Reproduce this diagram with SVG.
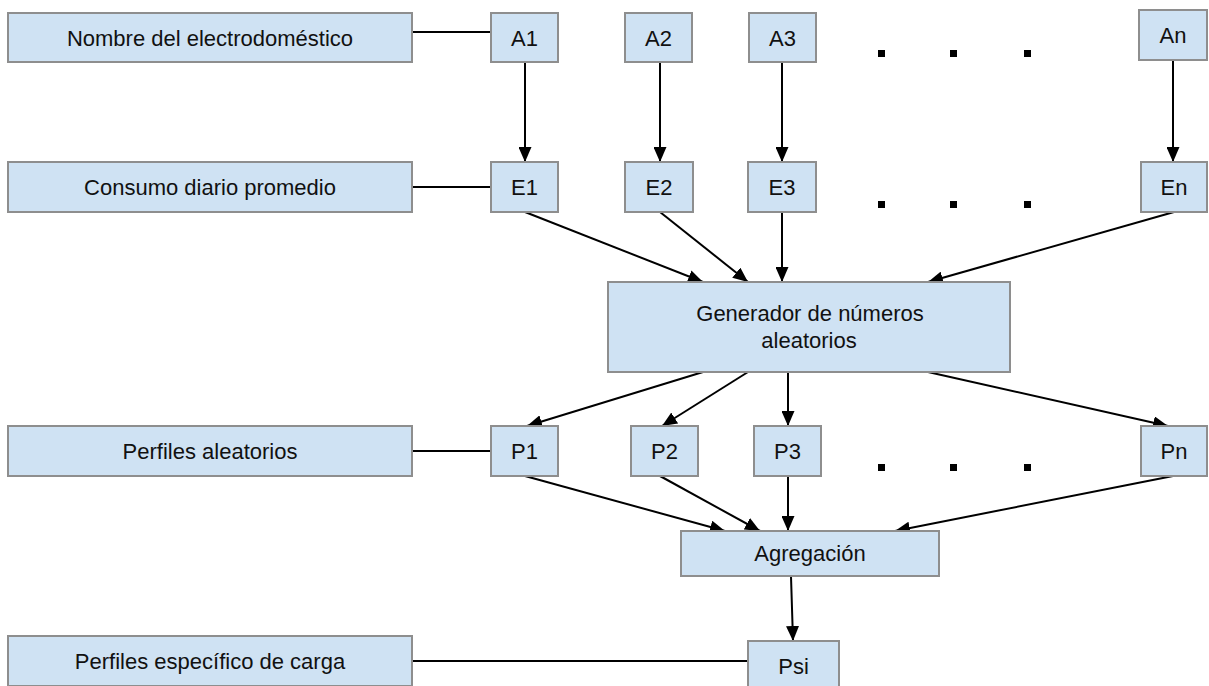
<svg xmlns="http://www.w3.org/2000/svg" width="1209" height="686" viewBox="0 0 1209 686">
  <style>
    .box { fill: #cfe2f3; stroke: #8e8e8e; stroke-width: 2; }
    .txt { font-family: "Liberation Sans", Arial, sans-serif; font-size: 22px; fill: #111; text-anchor: middle; }
    .ln { stroke: #000; stroke-width: 2; fill: none; }
    .arr { stroke: #000; stroke-width: 2; fill: none; marker-end: url(#head); }
    .dot { fill: #000; }
  </style>
  <defs>
    <marker id="head" markerUnits="userSpaceOnUse" markerWidth="15" markerHeight="13" refX="15" refY="6.5" orient="auto">
      <path d="M0,0 L15,6.5 L0,13 z" fill="#000"/>
    </marker>
  </defs>

  <rect width="1209" height="686" fill="#fff"/>

  <!-- connectors -->
  <g id="connectors">
    <!-- row labels to first item -->
    <line class="ln" x1="412" y1="32" x2="491" y2="32"/>
    <line class="ln" x1="412" y1="187" x2="491" y2="187"/>
    <line class="ln" x1="412" y1="451" x2="491" y2="451"/>
    <line class="ln" x1="412" y1="661" x2="748" y2="661"/>
    <!-- appliances to daily consumption -->
    <line class="arr" x1="525" y1="62" x2="525" y2="162"/>
    <line class="arr" x1="660" y1="62" x2="660" y2="162"/>
    <line class="arr" x1="782" y1="62" x2="782" y2="162"/>
    <line class="arr" x1="1173" y1="60" x2="1173" y2="162"/>
    <!-- consumption to generator -->
    <line class="arr" x1="525" y1="212" x2="703" y2="282"/>
    <line class="arr" x1="660" y1="212" x2="748" y2="282"/>
    <line class="arr" x1="782" y1="212" x2="782" y2="282"/>
    <line class="arr" x1="1174" y1="212" x2="928" y2="282"/>
    <!-- generator to random profiles -->
    <line class="arr" x1="703" y1="372" x2="527" y2="426"/>
    <line class="arr" x1="748" y1="372" x2="662" y2="426"/>
    <line class="arr" x1="788" y1="372" x2="788" y2="426"/>
    <line class="arr" x1="928" y1="372" x2="1168" y2="426"/>
    <!-- random profiles to aggregation -->
    <line class="arr" x1="525" y1="476" x2="725" y2="531"/>
    <line class="arr" x1="660" y1="476" x2="760" y2="531"/>
    <line class="arr" x1="788" y1="476" x2="788" y2="531"/>
    <line class="arr" x1="1173" y1="476" x2="895" y2="531"/>
    <!-- aggregation to specific profile -->
    <line class="arr" x1="791" y1="576" x2="793" y2="641"/>
  </g>

  <!-- row labels -->
  <g id="label-nombre">
    <rect class="box" x="8" y="13" width="404" height="49"/>
    <text class="txt" x="210" y="46">Nombre del electrodoméstico</text>
  </g>
  <g id="label-consumo">
    <rect class="box" x="8" y="162" width="404" height="50"/>
    <text class="txt" x="210" y="195">Consumo diario promedio</text>
  </g>
  <g id="label-perfiles">
    <rect class="box" x="8" y="426" width="404" height="50"/>
    <text class="txt" x="210" y="459">Perfiles aleatorios</text>
  </g>
  <g id="label-especifico">
    <rect class="box" x="8" y="636" width="404" height="50"/>
    <text class="txt" x="210" y="669">Perfiles específico de carga</text>
  </g>

  <!-- appliances -->
  <g id="A1"><rect class="box" x="491" y="13" width="67" height="49"/><text class="txt" x="524.5" y="46">A1</text></g>
  <g id="A2"><rect class="box" x="625" y="13" width="67" height="49"/><text class="txt" x="658.5" y="46">A2</text></g>
  <g id="A3"><rect class="box" x="749" y="13" width="67" height="49"/><text class="txt" x="782.5" y="46">A3</text></g>
  <g id="An"><rect class="box" x="1139" y="10" width="68" height="50"/><text class="txt" x="1173" y="43">An</text></g>

  <!-- daily consumption -->
  <g id="E1"><rect class="box" x="491" y="162" width="67" height="50"/><text class="txt" x="524.5" y="195">E1</text></g>
  <g id="E2"><rect class="box" x="625" y="162" width="68" height="50"/><text class="txt" x="659" y="195">E2</text></g>
  <g id="E3"><rect class="box" x="748" y="162" width="68" height="50"/><text class="txt" x="782" y="195">E3</text></g>
  <g id="En"><rect class="box" x="1141" y="162" width="66" height="50"/><text class="txt" x="1174" y="195">En</text></g>

  <!-- random number generator -->
  <g id="generador">
    <rect class="box" x="608" y="282" width="402" height="90"/>
    <text class="txt" x="810" y="321">Generador de números</text>
    <text class="txt" x="809" y="348">aleatorios</text>
  </g>

  <!-- random profiles -->
  <g id="P1"><rect class="box" x="491" y="426" width="67" height="50"/><text class="txt" x="524.5" y="459">P1</text></g>
  <g id="P2"><rect class="box" x="631" y="426" width="67" height="50"/><text class="txt" x="664.5" y="459">P2</text></g>
  <g id="P3"><rect class="box" x="754" y="426" width="67" height="50"/><text class="txt" x="787.5" y="459">P3</text></g>
  <g id="Pn"><rect class="box" x="1141" y="426" width="66" height="50"/><text class="txt" x="1174" y="459">Pn</text></g>

  <!-- aggregation -->
  <g id="agregacion">
    <rect class="box" x="681" y="531" width="258" height="45"/>
    <text class="txt" x="810" y="561">Agregación</text>
  </g>

  <!-- specific load profile -->
  <g id="Psi">
    <rect class="box" x="748" y="641" width="91" height="50"/>
    <text class="txt" x="793.5" y="674">Psi</text>
  </g>

  <!-- ellipsis dots -->
  <g id="dots">
    <rect class="dot" x="878" y="50" width="7" height="7"/>
    <rect class="dot" x="950" y="50" width="7" height="7"/>
    <rect class="dot" x="1024" y="50" width="7" height="7"/>
    <rect class="dot" x="878" y="201" width="7" height="7"/>
    <rect class="dot" x="950" y="201" width="7" height="7"/>
    <rect class="dot" x="1024" y="201" width="7" height="7"/>
    <rect class="dot" x="878" y="464" width="7" height="7"/>
    <rect class="dot" x="950" y="464" width="7" height="7"/>
    <rect class="dot" x="1024" y="464" width="7" height="7"/>
  </g>
</svg>
